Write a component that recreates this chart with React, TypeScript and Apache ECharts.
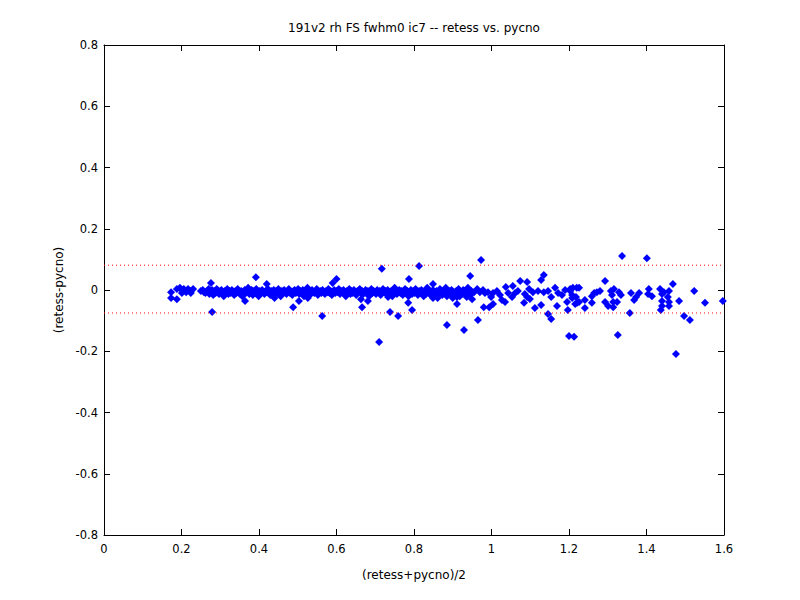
import React, { useEffect, useRef } from "react";
import * as echarts from "echarts";

const titleText = "191v2 rh FS fwhm0 ic7 -- retess vs. pycno";
const xName = "(retess+pycno)/2";
const yName = "(retess-pycno)";
const upperLimit = 0.081;
const lowerLimit = -0.075;

const leftPoints: number[][] = [
  [0.173, -0.007], [0.173, -0.026], [0.188, -0.03], [0.188, 0.003], [0.196, 0.007],
  [0.201, -0.01], [0.201, 0], [0.206, 0.003], [0.212, -0.007], [0.217, 0.003],
  [0.224, -0.003], [0.224, -0.01], [0.23, 0.003],
];

const bandPoints: number[][] = [
  [0.25, -0.003], [0.255, 0], [0.258, -0.007], [0.262, -0.01], [0.266, -0.003], [0.27, 0.003], [0.272, -0.013], [0.275, -0.007], [0.279, 0], [0.282, -0.016],
  [0.285, -0.003], [0.288, -0.01], [0.291, 0.003], [0.294, -0.007], [0.297, -0.013], [0.3, -0.003], [0.303, 0], [0.306, -0.01], [0.309, -0.02], [0.312, -0.003],
  [0.315, -0.007], [0.318, 0.003], [0.321, -0.013], [0.324, -0.003], [0.327, -0.01], [0.33, 0], [0.333, -0.007], [0.336, -0.016], [0.339, -0.003], [0.342, -0.01],
  [0.345, 0.003], [0.348, -0.007], [0.351, -0.013], [0.354, -0.003], [0.357, -0.02], [0.36, -0.007], [0.363, 0], [0.366, -0.01], [0.369, -0.003], [0.372, 0.007],
  [0.375, -0.013], [0.378, -0.007], [0.381, 0], [0.384, -0.016], [0.387, -0.003], [0.39, -0.01], [0.393, 0.003], [0.396, -0.007], [0.399, -0.02], [0.402, -0.003],
  [0.405, -0.01], [0.408, 0], [0.411, -0.007], [0.414, -0.013], [0.417, -0.003], [0.42, -0.007], [0.423, 0.003], [0.426, -0.01], [0.429, -0.016], [0.432, -0.003],
  [0.435, -0.007], [0.438, 0], [0.441, -0.013], [0.444, -0.003], [0.447, -0.01], [0.45, 0.003], [0.453, -0.007], [0.456, -0.02], [0.459, -0.003], [0.462, -0.01],
  [0.465, 0], [0.468, -0.007], [0.471, -0.013], [0.474, -0.003], [0.477, 0.003], [0.48, -0.01], [0.483, -0.007], [0.486, -0.016], [0.489, -0.003], [0.492, 0],
  [0.495, -0.01], [0.498, -0.007], [0.501, 0.003], [0.504, -0.013], [0.507, -0.003], [0.51, -0.007], [0.513, 0], [0.516, -0.02], [0.519, -0.003], [0.522, -0.01],
  [0.525, 0.007], [0.528, -0.007], [0.531, -0.003], [0.534, -0.013], [0.537, 0], [0.54, -0.007], [0.543, -0.01], [0.546, -0.003], [0.549, 0.003], [0.552, -0.016],
  [0.555, -0.007], [0.558, -0.003], [0.561, -0.01], [0.564, 0], [0.567, -0.007], [0.57, -0.013], [0.573, -0.003], [0.576, -0.007], [0.579, 0.003], [0.582, -0.01],
  [0.585, -0.003], [0.588, -0.016], [0.591, -0.007], [0.594, 0], [0.597, -0.01], [0.6, -0.003], [0.603, -0.007], [0.606, 0.003], [0.609, -0.013], [0.612, -0.003],
  [0.615, -0.007], [0.618, 0], [0.621, -0.01], [0.624, -0.02], [0.627, -0.003], [0.63, -0.007], [0.633, 0.003], [0.636, -0.013], [0.639, -0.003], [0.642, -0.01],
  [0.645, 0], [0.648, -0.007], [0.651, -0.016], [0.654, -0.003], [0.657, -0.007], [0.66, 0.003], [0.663, -0.01], [0.666, -0.003], [0.669, -0.013], [0.672, -0.007],
  [0.675, 0], [0.678, -0.01], [0.681, -0.003], [0.684, -0.02], [0.687, -0.007], [0.69, 0.003], [0.693, -0.01], [0.696, -0.003], [0.699, -0.007], [0.702, -0.013],
  [0.705, 0], [0.708, -0.007], [0.711, -0.003], [0.714, -0.016], [0.717, -0.01], [0.72, 0.003], [0.723, -0.007], [0.726, -0.003], [0.729, -0.013], [0.732, 0],
  [0.735, -0.007], [0.738, -0.01], [0.741, -0.003], [0.744, -0.02], [0.747, -0.007], [0.75, 0.007], [0.753, -0.003], [0.756, -0.013], [0.759, -0.007], [0.762, 0],
  [0.765, -0.01], [0.768, -0.003], [0.771, -0.016], [0.774, -0.007], [0.777, 0.003], [0.78, -0.01], [0.783, -0.003], [0.786, -0.02], [0.789, -0.007], [0.792, 0],
  [0.795, -0.013], [0.798, -0.003], [0.801, -0.01], [0.804, 0.003], [0.807, -0.007], [0.81, -0.016], [0.813, -0.003], [0.816, -0.01], [0.819, 0], [0.822, -0.007],
  [0.825, -0.02], [0.828, -0.003], [0.831, -0.013], [0.834, 0.007], [0.837, -0.007], [0.84, -0.003], [0.843, -0.01], [0.846, -0.02], [0.849, 0], [0.852, -0.007],
  [0.855, -0.013], [0.858, -0.003], [0.861, -0.026], [0.864, -0.01], [0.867, 0.003], [0.87, -0.007], [0.873, -0.016], [0.876, -0.003], [0.879, -0.01], [0.882, 0.007],
  [0.885, -0.02], [0.888, -0.007], [0.891, -0.003], [0.894, -0.013], [0.897, 0], [0.9, -0.026], [0.903, -0.007], [0.906, -0.016], [0.909, -0.003], [0.912, -0.01],
  [0.915, 0.003], [0.918, -0.02], [0.921, -0.007], [0.924, -0.013], [0.927, 0], [0.93, -0.003], [0.933, -0.01], [0.936, -0.023], [0.939, 0.007], [0.942, -0.007],
  [0.945, -0.016], [0.948, -0.003], [0.95, -0.03], [0.733, -0.023], [0.849, -0.026], [0.911, -0.023], [0.663, -0.03],
];

const sparsePoints: number[][] = [
  [0.955, -0.007], [0.963, 0.003], [0.97, -0.007], [0.978, 0], [0.983, -0.01], [0.991, -0.007], [0.999, -0.023], [1.004, -0.01], [1.014, -0.003], [1.022, -0.016],
  [1.027, -0.033], [1.035, -0.039], [1.037, 0.01], [1.043, -0.01], [1.053, -0.023], [1.055, 0.013], [1.061, -0.01], [1.068, -0.003], [1.086, -0.013], [1.092, -0.023],
  [1.099, -0.029], [1.097, 0.003], [1.107, -0.007], [1.12, -0.003], [1.135, -0.007], [1.146, -0.003], [1.154, -0.023], [1.164, 0.007], [1.172, -0.01], [1.182, -0.016],
  [1.19, 0], [1.195, -0.039], [1.203, -0.003], [1.218, -0.023],
];

const outlierPoints: number[][] = [
  [0.276, 0.023], [0.279, -0.072], [0.364, -0.036], [0.392, 0.042], [0.42, 0.02], [0.44, -0.026], [0.488, -0.056], [0.503, -0.036], [0.526, -0.026], [0.563, -0.085],
  [0.59, 0.023], [0.6, 0.036], [0.666, -0.056], [0.681, -0.036], [0.717, 0.069], [0.813, 0.078], [0.787, 0.036], [0.945, 0.046], [0.849, 0.02], [0.738, -0.072],
  [0.759, -0.085], [0.795, -0.065], [0.71, -0.17], [0.885, -0.114], [0.929, -0.131], [0.965, -0.098], [0.911, -0.046], [0.785, -0.042], [0.973, 0.098], [1.135, 0.049],
  [1.128, 0.033], [1.074, 0.029], [1.092, 0.026], [0.98, -0.056], [0.994, -0.056], [1.004, -0.046], [1.112, -0.059], [1.128, -0.049], [1.146, -0.078], [1.154, -0.095],
  [1.169, -0.052], [1.197, -0.065], [1.2, -0.15], [1.213, -0.153], [1.084, -0.042], [1.221, -0.042],
];

const tailPoints: number[][] = [
  [1.337, 0.111], [1.401, 0.104], [1.293, 0.029], [1.357, -0.075], [1.326, -0.147], [1.476, -0.209], [1.497, -0.085], [1.512, -0.098], [1.523, -0.003], [1.551, -0.042],
  [1.597, -0.036], [1.484, -0.036], [1.468, 0.02], [1.216, -0.046], [1.226, -0.039], [1.241, -0.033], [1.241, -0.059], [1.259, -0.042], [1.259, -0.02], [1.265, -0.01],
  [1.272, -0.007], [1.28, -0.003], [1.293, -0.039], [1.301, -0.052], [1.314, -0.056], [1.314, -0.039], [1.324, -0.039], [1.308, -0.003], [1.316, 0.003], [1.311, -0.016],
  [1.329, -0.007], [1.334, -0.016], [1.36, -0.01], [1.368, -0.033], [1.373, -0.023], [1.381, -0.01], [1.404, -0.013], [1.406, 0.003], [1.414, -0.02], [1.435, 0.003],
  [1.44, -0.013], [1.445, -0.007], [1.458, -0.003], [1.44, -0.036], [1.44, -0.052], [1.437, -0.065], [1.455, -0.023], [1.458, -0.039], [1.458, -0.052], [1.203, 0.003],
  [1.21, 0.007], [1.22, 0.007], [1.226, 0.007], [1.208, -0.016], [1.208, -0.026],
];

const FONT = "DejaVu Sans, Verdana, sans-serif";

export default function App() {
  const ref = useRef<HTMLDivElement>(null);
  useEffect(() => {
    if (!ref.current) return;
    const chart = echarts.init(ref.current, undefined, { renderer: "svg" });
    const fmt = (v: number) => String(parseFloat(v.toFixed(1)));
    const baseAxis = {
      axisLine: { show: true, onZero: false, lineStyle: { color: "#000", width: 1 } },
      axisTick: { show: true, inside: true, length: 6, lineStyle: { color: "#000" } },
      splitLine: { show: false },
    };
    const allPoints = [...leftPoints, ...bandPoints, ...sparsePoints, ...outlierPoints, ...tailPoints];
    chart.setOption({
      animation: false,
      backgroundColor: "#fff",
      grid: { left: 104, right: 76, top: 45, bottom: 65 },
      graphic: [
        {
          type: "text",
          x: 414,
          y: 28,
          style: { text: titleText, align: "center", verticalAlign: "middle", font: `12px ${FONT}`, fill: "#000" },
        },
      ],
      xAxis: [
        {
          ...baseAxis,
          type: "value",
          min: 0,
          max: 1.6,
          interval: 0.2,
          position: "bottom",
          axisLabel: { color: "#000", fontSize: 11.5, fontFamily: FONT, margin: 8, formatter: fmt },
          name: xName,
          nameLocation: "middle",
          nameGap: 34,
          nameTextStyle: { color: "#000", fontSize: 12, fontFamily: FONT },
        },
        {
          ...baseAxis,
          type: "value",
          min: 0,
          max: 1.6,
          interval: 0.2,
          position: "top",
          axisLabel: { show: false },
        },
      ],
      yAxis: [
        {
          ...baseAxis,
          type: "value",
          min: -0.8,
          max: 0.8,
          interval: 0.2,
          position: "left",
          axisLabel: { color: "#000", fontSize: 11.5, fontFamily: FONT, margin: 6, formatter: fmt },
          name: yName,
          nameLocation: "middle",
          nameGap: 36,
          nameTextStyle: { color: "#000", fontSize: 12, fontFamily: FONT },
        },
        {
          ...baseAxis,
          type: "value",
          min: -0.8,
          max: 0.8,
          interval: 0.2,
          position: "right",
          axisLabel: { show: false },
        },
      ],
      series: [
        {
          type: "line",
          data: [[0, upperLimit], [1.6, upperLimit]],
          symbol: "none",
          lineStyle: { color: "#ff0000", width: 1, type: [1, 3] },
          silent: true,
        },
        {
          type: "line",
          data: [[0, lowerLimit], [1.6, lowerLimit]],
          symbol: "none",
          lineStyle: { color: "#ff0000", width: 1, type: [1, 3] },
          silent: true,
        },
        {
          type: "scatter",
          data: allPoints,
          symbol: "diamond",
          symbolSize: 8,
          itemStyle: { color: "#0000ff", opacity: 1 },
        },
      ],
    });
    return () => chart.dispose();
  }, []);
  return (
    <div
      ref={ref}
      style={{ position: "fixed", left: 0, top: 0, width: 800, height: 600, background: "#fff" }}
    />
  );
}
